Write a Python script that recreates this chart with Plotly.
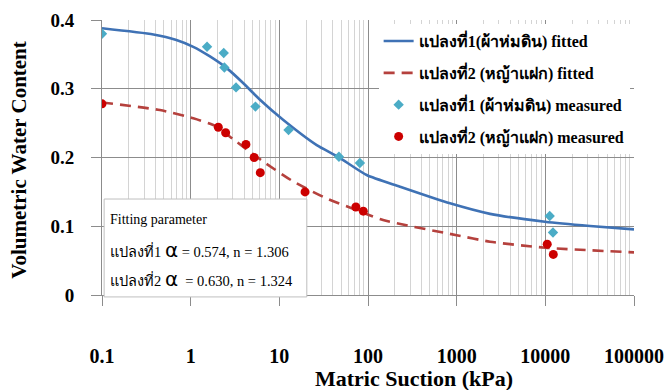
import plotly.graph_objects as go

# measured data
m1_x = [0.1, 1.53, 2.36, 2.4, 3.25, 5.38, 12.7, 47, 81, 11200, 12200]
m1_y = [0.380, 0.361, 0.352, 0.331, 0.302, 0.274, 0.240, 0.201, 0.192, 0.115, 0.091]
m2_x = [0.1, 2.05, 2.48, 4.2, 5.2, 6.1, 19.5, 73, 88.5, 10500, 12300]
m2_y = [0.278, 0.244, 0.236, 0.219, 0.200, 0.178, 0.150, 0.128, 0.122, 0.074, 0.059]

# fitted curves
f1_x = [0.1, 0.38, 0.69, 1.07, 1.65, 2.55, 3.93, 6.05, 11.1, 26.4, 46, 96.6, 229, 841, 2380, 9900, 31900, 100000]
f1_y = [0.388, 0.379, 0.371, 0.361, 0.347, 0.330, 0.308, 0.284, 0.2545, 0.218, 0.201, 0.1745, 0.1576, 0.1333, 0.118, 0.1066, 0.1004, 0.0955]
f2_x = [0.1, 0.45, 1.07, 1.96, 3.02, 5.56, 6.6, 14.4, 34, 74, 148, 1000, 2380, 10000, 100000]
f2_y = [0.280, 0.269, 0.257, 0.245, 0.2265, 0.201, 0.194, 0.165, 0.1406, 0.1236, 0.109, 0.087, 0.0775, 0.0688, 0.062]

x_ticks = [0.1, 1, 10, 100, 1000, 10000, 100000]
x_ticktext = ["0.1", "1", "10", "100", "1000", "10000", "100000"]
y_ticks = [0, 0.1, 0.2, 0.3, 0.4]
y_ticktext = ["0", "0.1", "0.2", "0.3", "0.4"]

names = ["แปลงที่1(ผ้าห่มดิน) fitted", "แปลงที่2 (หญ้าแฝก) fitted",
         "แปลงที่1 (ผ้าห่มดิน) measured", "แปลงที่2 (หญ้าแฝก) measured"]

x_title = "Matric Suction (kPa)"
y_title = "Volumetric Water Content"
box_title = "Fitting parameter"
box_lines = ["แปลงที่1 <span style='font-size:20px;font-family:DejaVu Sans'>α</span> = 0.574, n = 1.306",
             "แปลงที่2 <span style='font-size:20px;font-family:DejaVu Sans'>α</span>  = 0.630, n = 1.324"]

FONT = "Liberation Serif, Times New Roman, serif"

fig = go.Figure()
fig.add_trace(go.Scatter(x=f1_x, y=f1_y, mode="lines", name=names[0], legendgroup="a",
                         line=dict(color="#3F72B5", width=2.6, shape="spline", smoothing=0.6)))
fig.add_trace(go.Scatter(x=f2_x, y=f2_y, mode="lines", name=names[1], legendgroup="b",
                         line=dict(color="#B5413D", width=2.6, dash="11px,7px", shape="spline", smoothing=0.6)))
fig.add_trace(go.Scatter(x=m1_x, y=m1_y, mode="markers", name=names[2], legendgroup="c",
                         marker=dict(symbol="diamond", color="#4BACC6", size=8)))
fig.add_trace(go.Scatter(x=m2_x, y=m2_y, mode="markers", name=names[3], legendgroup="d",
                         marker=dict(symbol="circle", color="#CC0000", size=9)))

fig.update_layout(
    width=667, height=390,
    margin=dict(l=102, r=33, t=20, b=95),
    paper_bgcolor="white", plot_bgcolor="white",
    font=dict(family=FONT, color="black"),
    showlegend=True,
    legend=dict(x=0.52, y=0.985, xanchor="left", yanchor="top",
                bgcolor="white", borderwidth=0,
                font=dict(family=FONT, size=16, color="black", weight="bold"),
                traceorder="grouped", tracegroupgap=8, itemwidth=30),
    xaxis=dict(type="log", range=[-1, 5], tickvals=x_ticks, ticktext=x_ticktext,
               automargin=False,
               showgrid=True, gridcolor="#8c8c8c", gridwidth=1,
               ticks="outside", ticklen=10, tickcolor="#8c8c8c",
               ticklabelstandoff=33,
               tickfont=dict(family=FONT, size=20, color="black", weight="bold"),
               minor=dict(dtick="D1", showgrid=True, gridcolor="#d4d4d4", gridwidth=1, ticks=""),
               showline=True, linecolor="#8c8c8c", zeroline=False),
    yaxis=dict(range=[0, 0.4], tickvals=y_ticks, ticktext=y_ticktext,
               automargin=False,
               showgrid=True, gridcolor="#8c8c8c", gridwidth=1,
               ticks="outside", ticklen=10, tickcolor="#8c8c8c",
               ticklabelstandoff=13,
               tickfont=dict(family=FONT, size=19, color="black", weight="bold"),
               showline=True, linecolor="#8c8c8c", zeroline=False),
)

# axis titles
fig.add_annotation(xref="paper", yref="paper", x=0.586, y=-0.302, xanchor="center", yanchor="middle",
                   showarrow=False, text="<b>" + x_title + "</b>",
                   font=dict(family=FONT, size=22, color="black"))
fig.add_annotation(xref="paper", yref="paper", x=-0.155, y=0.49, xanchor="center", yanchor="middle",
                   showarrow=False, textangle=-90, text="<b>" + y_title + "</b>",
                   font=dict(family=FONT, size=21, color="black"))

# parameter box
fig.add_shape(type="rect", xref="paper", yref="paper", x0=0.004, x1=0.385, y0=-0.007, y1=0.349,
              line=dict(color="#bfbfbf", width=1), fillcolor="white", layer="above")
fig.add_annotation(xref="paper", yref="paper", x=0.012, y=0.276, xanchor="left", yanchor="middle",
                   showarrow=False, text=box_title, font=dict(family=FONT, size=14, color="black"))
fig.add_annotation(xref="paper", yref="paper", x=0.012, y=0.164, xanchor="left", yanchor="middle",
                   showarrow=False, text=box_lines[0], font=dict(family=FONT, size=14.5, color="black"))
fig.add_annotation(xref="paper", yref="paper", x=0.012, y=0.058, xanchor="left", yanchor="middle",
                   showarrow=False, text=box_lines[1], font=dict(family=FONT, size=14.5, color="black"))

fig.write_html("out.html")
